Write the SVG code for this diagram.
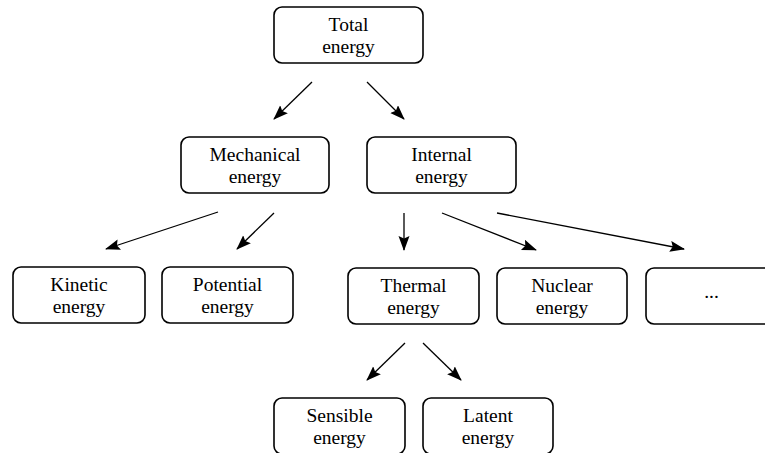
<svg xmlns="http://www.w3.org/2000/svg" width="765" height="453" viewBox="0 0 765 453">
<style>
.box{fill:#fff;stroke:#000;stroke-width:1.6}
.t{font-family:"Liberation Serif","DejaVu Serif",serif;font-size:19.5px;fill:#000;text-anchor:middle}
.c{stroke:#000;stroke-width:1.3;fill:none;marker-end:url(#ah)}
</style>
<defs>
<marker id="ah" markerUnits="userSpaceOnUse" markerWidth="17" markerHeight="13" refX="14" refY="5.5" orient="auto">
<path d="M0,0 L15,5.5 L0,11 L2.5,5.5 z" fill="#000"/>
</marker>
</defs>
<rect width="765" height="453" fill="#fff"/>
<g id="connectors">
<line class="c" x1="312" y1="82" x2="274" y2="119"/>
<line class="c" x1="367" y1="82" x2="404" y2="119"/>
<line class="c" x1="218" y1="212" x2="106" y2="249"/>
<line class="c" x1="274" y1="213" x2="237" y2="249"/>
<line class="c" x1="404" y1="213" x2="404" y2="250"/>
<line class="c" x1="442" y1="213" x2="536" y2="250"/>
<line class="c" x1="497" y1="213" x2="684" y2="249"/>
<line class="c" x1="405" y1="343" x2="367" y2="380"/>
<line class="c" x1="423" y1="343" x2="461" y2="380"/>
</g>
<g id="total"><rect class="box" x="274" y="7" width="149" height="56" rx="8"/><text class="t" x="348.5" y="31">Total</text><text class="t" x="348.5" y="53">energy</text></g>
<g id="mechanical"><rect class="box" x="181" y="137" width="148" height="56" rx="8"/><text class="t" x="255" y="161">Mechanical</text><text class="t" x="255" y="183">energy</text></g>
<g id="internal"><rect class="box" x="367" y="137" width="149" height="56" rx="8"/><text class="t" x="441.5" y="161">Internal</text><text class="t" x="441.5" y="183">energy</text></g>
<g id="kinetic"><rect class="box" x="13" y="267" width="132" height="56" rx="8"/><text class="t" x="79" y="291">Kinetic</text><text class="t" x="79" y="313">energy</text></g>
<g id="potential"><rect class="box" x="162" y="267" width="131" height="56" rx="8"/><text class="t" x="227.5" y="291">Potential</text><text class="t" x="227.5" y="313">energy</text></g>
<g id="thermal"><rect class="box" x="348" y="268" width="131" height="56" rx="8"/><text class="t" x="413.5" y="292">Thermal</text><text class="t" x="413.5" y="314">energy</text></g>
<g id="nuclear"><rect class="box" x="497" y="268" width="130" height="56" rx="8"/><text class="t" x="562" y="292">Nuclear</text><text class="t" x="562" y="314">energy</text></g>
<g id="more"><rect class="box" x="646" y="268" width="131" height="56" rx="8"/><text class="t" x="711.5" y="298">...</text></g>
<g id="sensible"><rect class="box" x="274" y="398" width="131" height="56" rx="8"/><text class="t" x="339.5" y="422">Sensible</text><text class="t" x="339.5" y="444">energy</text></g>
<g id="latent"><rect class="box" x="423" y="398" width="130" height="56" rx="8"/><text class="t" x="488" y="422">Latent</text><text class="t" x="488" y="444">energy</text></g>
</svg>
